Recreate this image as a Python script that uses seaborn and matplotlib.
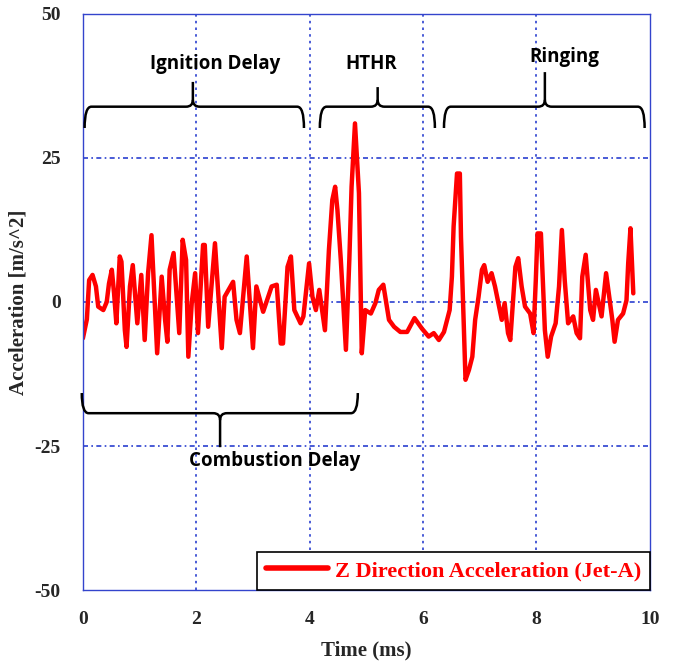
import matplotlib
matplotlib.use("Agg")
import matplotlib.pyplot as plt
import seaborn as sns
import pandas as pd
from matplotlib.path import Path
from matplotlib.patches import PathPatch

# ---- data ----
time_ms = [0.00, 0.07, 0.11, 0.17, 0.23, 0.27, 0.36, 0.42, 0.46, 0.51, 0.55, 0.59, 0.65, 0.68,
           0.74, 0.77, 0.83, 0.88, 0.96, 1.03, 1.09, 1.15, 1.21, 1.31, 1.39, 1.45, 1.49, 1.53,
           1.60, 1.70, 1.76, 1.82, 1.86, 1.92, 1.98, 2.03, 2.12, 2.15, 2.21, 2.33, 2.45, 2.50,
           2.65, 2.71, 2.77, 2.89, 3.00, 3.06, 3.18, 3.33, 3.42, 3.49, 3.53, 3.61, 3.67, 3.73,
           3.84, 3.89, 3.99, 4.05, 4.11, 4.17, 4.27, 4.34, 4.40, 4.45, 4.49, 4.55, 4.64, 4.70,
           4.74, 4.80, 4.87, 4.92, 4.98, 5.08, 5.16, 5.22, 5.30, 5.40, 5.49, 5.60, 5.72, 5.85,
           5.98, 6.10, 6.19, 6.28, 6.37, 6.47, 6.51, 6.54, 6.60, 6.65, 6.67, 6.71, 6.75, 6.81,
           6.87, 6.92, 6.98, 7.04, 7.08, 7.14, 7.21, 7.27, 7.39, 7.44, 7.50, 7.54, 7.63, 7.68,
           7.74, 7.80, 7.89, 7.95, 7.99, 8.02, 8.08, 8.15, 8.20, 8.26, 8.34, 8.40, 8.45, 8.50,
           8.56, 8.65, 8.71, 8.77, 8.81, 8.87, 8.95, 9.00, 9.05, 9.15, 9.23, 9.34, 9.38, 9.44,
           9.53, 9.59, 9.62, 9.66, 9.71]
accel = [-6.3, -3.0, 3.8, 4.7, 2.7, -0.8, -1.4, 0.0, 3.2, 5.6, 1.5, -3.7, 7.9, 7.0,
         -4.9, -7.8, 2.7, 6.4, -3.7, 4.7, -6.6, 5.0, 11.6, -8.9, 4.4, -3.1, -6.9, 5.6,
         8.5, -5.4, 10.8, 7.3, -9.5, -0.2, 5.0, -5.4, 9.9, 9.9, -4.3, 10.2, -8.0, 0.9,
         3.5, -3.1, -5.4, 7.9, -8.0, 2.7, -1.7, 2.7, 3.0, -7.2, -7.2, 6.1, 7.9, -1.4,
         -3.7, -2.5, 6.7, 0.9, -1.4, 2.1, -4.9, 9.0, 17.7, 20.0, 16.0, 7.3, -8.3, 7.3,
         20.0, 31.0, 18.9, -8.9, -1.4, -2.0, -0.2, 2.1, 3.0, -3.1, -4.3, -5.2, -5.2, -2.8,
         -4.6, -6.0, -5.4, -6.6, -5.2, -1.4, 4.4, 13.1, 22.3, 22.3, 11.3, -1.4, -13.5, -11.8,
         -9.5, -3.1, 0.9, 5.6, 6.4, 3.5, 5.0, 2.7, -3.1, -0.2, -5.4, -6.6, 6.1, 7.6,
         2.7, -0.8, -2.0, -5.4, 3.8, 11.9, 11.9, -4.9, -9.5, -6.0, -3.7, 2.7, 12.5, 3.8,
         -3.7, -2.5, -5.4, -6.3, 4.4, 8.2, -1.4, -3.1, 2.1, -2.5, 5.0, -3.1, -6.9, -3.1,
         -2.0, 0.3, 6.7, 12.8, 1.5]
series_label = "Z Direction Acceleration (Jet-A)"
x_ticks = [0, 2, 4, 6, 8, 10]
y_ticks = [-50, -25, 0, 25, 50]

# brace annotations: (label, x_start, x_end, x_tip)
top_braces = [("Ignition Delay", 0.03, 3.90, 1.94),
              ("HTHR", 4.18, 6.21, 5.20),
              ("Ringing", 6.37, 9.91, 8.15)]
bottom_brace = ("Combustion Delay", -0.02, 4.85, 2.42)

df = pd.DataFrame({"Time": time_ms, "Accel": accel, "series": series_label})

sns.set_theme(style="white")
plt.rcParams["font.family"] = ["DejaVu Sans"]

fig = plt.figure(figsize=(6.74, 6.63), dpi=100)
ax = fig.add_axes([0.123, 0.110, 0.841, 0.869])

sns.lineplot(data=df, x="Time", y="Accel", hue="series", palette=["#ff0000"],
             sort=False, estimator=None, linewidth=3.2, ax=ax)

ax.set_xlim(0, 10)
ax.set_ylim(-50, 50)
ax.set_xticks(x_ticks)
ax.set_yticks(y_ticks)
serif = "Liberation Serif"
ax.set_xticklabels([str(t) for t in x_ticks], fontfamily=serif, fontweight="bold", fontsize=14)
ax.set_yticklabels([str(t) for t in y_ticks], fontfamily=serif, fontweight="bold", fontsize=14)
ax.tick_params(axis="x", length=0, pad=15)
ax.tick_params(axis="y", length=0, pad=16)
ax.set_xlabel("Time (ms)", fontfamily=serif, fontweight="bold", fontsize=15, labelpad=9)
ax.set_ylabel("Acceleration [m/s^2]", fontfamily=serif, fontweight="bold", fontsize=15, labelpad=4)

grid_color = "#2a3fd0"
for gx in [2, 4, 6, 8]:
    ax.axvline(gx, color=grid_color, linestyle=(0, (1.5, 2.5)), linewidth=1.2, zorder=0)
for gy in [-25, 0, 25]:
    ax.axhline(gy, color=grid_color, linestyle=(0, (3, 2, 1, 2)), linewidth=1.2, zorder=0)
for sp in ax.spines.values():
    sp.set_color("#3344cc")
    sp.set_linewidth(1.0)


def brace(ax, x0, x1, xt, y_line, y_end, y_tip, r=0.12, ry=1.2):
    sgn = 1 if y_tip > y_line else -1
    verts = [(x0, y_end), (x0, y_line), (x0 + r, y_line),
             (xt - r, y_line), (xt, y_line), (xt, y_line + sgn * ry),
             (xt, y_tip)]
    codes = [Path.MOVETO, Path.CURVE3, Path.CURVE3, Path.LINETO, Path.CURVE3, Path.CURVE3, Path.LINETO]
    verts2 = [(xt, y_line + sgn * ry), (xt, y_line), (xt + r, y_line),
              (x1 - r, y_line), (x1, y_line), (x1, y_end)]
    codes2 = [Path.MOVETO, Path.CURVE3, Path.CURVE3, Path.LINETO, Path.CURVE3, Path.CURVE3]
    for v, c in ((verts, codes), (verts2, codes2)):
        ax.add_patch(PathPatch(Path(v, c), fill=False, edgecolor="black", linewidth=1.8,
                               clip_on=False, zorder=5))


sans = "Open Sans"
label_y = {"Ignition Delay": 41.3, "HTHR": 41.3, "Ringing": 42.5}
label_x = {"Ignition Delay": 2.33, "HTHR": 5.08, "Ringing": 8.50}
tip_y = {"Ignition Delay": 38.2, "HTHR": 37.3, "Ringing": 39.9}
for name, x0, x1, xt in top_braces:
    brace(ax, x0, x1, xt, 33.9, 30.2, tip_y[name])
    ax.text(label_x[name], label_y[name], name, ha="center", va="center",
            fontfamily=sans, fontweight="bold", fontsize=13.5, color="black")

name, x0, x1, xt = bottom_brace
brace(ax, x0, x1, xt, -19.3, -15.8, -25.2)
ax.text(3.39, -27.6, name, ha="center", va="center",
        fontfamily=sans, fontweight="bold", fontsize=13.5, color="black")

leg = ax.legend(loc="lower right", borderaxespad=0, fancybox=False, framealpha=1,
                edgecolor="black", handlelength=2.8, handletextpad=0.3,
                borderpad=0.4, prop={"family": serif, "weight": "bold", "size": 16})
leg.get_frame().set_linewidth(1.2)
for t in leg.get_texts():
    t.set_color("#ff0000")
for h in leg.get_lines():
    h.set_linewidth(4)

fig.savefig("out.png", dpi=100)
